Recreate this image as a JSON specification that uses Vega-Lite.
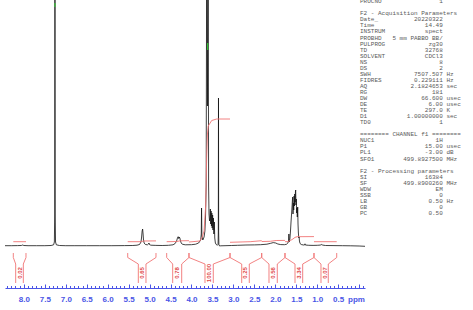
{
  "$schema": "https://vega.github.io/schema/vega-lite/v6.json",
  "width": 360,
  "height": 288,
  "autosize": {"type": "none"},
  "padding": {"left": 5, "top": 0, "right": 108, "bottom": 22},
  "background": "white",
  "config": {
    "view": {"stroke": null},
    "axisX": {
      "grid": false,
      "domainColor": "#4a55e6",
      "domainWidth": 1,
      "tickColor": "#4a55e6",
      "tickWidth": 1,
      "labelColor": "#4a55e6",
      "labelFont": "Liberation Sans",
      "labelFontSize": 8,
      "labelFontWeight": "bold",
      "labelPadding": 11,
      "labelOverlap": false,
      "labelFlush": false,
      "labelBound": false,
      "titleColor": "#4a55e6",
      "titleFont": "Liberation Sans",
      "titleFontSize": 8,
      "titleFontWeight": "bold",
      "titleX": 351,
      "titleY": 11,
      "titleAlign": "center",
      "titleBaseline": "middle"
    }
  },
  "datasets": {
    "spectrum": [
      {"ppm":8.45,"v":0.3},{"ppm":8.3,"v":0.3},{"ppm":8.15,"v":0.4},{"ppm":8.06,"v":0.5},{"ppm":8.03,"v":1.0},{"ppm":8.0,"v":0.5},{"ppm":7.9,"v":0.3},{"ppm":7.7,"v":0.3},{"ppm":7.5,"v":0.3},{"ppm":7.35,"v":0.5},{"ppm":7.29,"v":1.2},{"ppm":7.272,"v":4},{"ppm":7.264,"v":30},{"ppm":7.258,"v":330},{"ppm":7.252,"v":30},{"ppm":7.244,"v":4},{"ppm":7.225,"v":1.2},{"ppm":7.15,"v":0.5},{"ppm":7.0,"v":0.3},{"ppm":6.8,"v":0.3},{"ppm":6.5,"v":0.3},{"ppm":6.2,"v":0.3},{"ppm":5.9,"v":0.3},{"ppm":5.6,"v":0.4},{"ppm":5.4,"v":0.5},{"ppm":5.3,"v":0.8},{"ppm":5.24,"v":1.5},{"ppm":5.205,"v":4},{"ppm":5.19,"v":9},{"ppm":5.178,"v":15},{"ppm":5.166,"v":17},{"ppm":5.155,"v":12},{"ppm":5.145,"v":6},{"ppm":5.13,"v":3},{"ppm":5.10,"v":1.5},{"ppm":5.05,"v":1.2},{"ppm":5.025,"v":2},{"ppm":5.015,"v":3},{"ppm":5.005,"v":1.5},{"ppm":4.97,"v":0.8},{"ppm":4.85,"v":0.6},{"ppm":4.7,"v":0.5},{"ppm":4.55,"v":0.7},{"ppm":4.44,"v":1.2},{"ppm":4.39,"v":2.5},{"ppm":4.355,"v":5},{"ppm":4.335,"v":8},{"ppm":4.318,"v":9.3},{"ppm":4.305,"v":7.5},{"ppm":4.292,"v":9},{"ppm":4.278,"v":8},{"ppm":4.262,"v":5},{"ppm":4.245,"v":3},{"ppm":4.22,"v":1.8},{"ppm":4.15,"v":1.2},{"ppm":4.0,"v":1.3},{"ppm":3.9,"v":1.8},{"ppm":3.83,"v":3},{"ppm":3.78,"v":6},{"ppm":3.767,"v":12},{"ppm":3.760,"v":38},{"ppm":3.752,"v":10},{"ppm":3.73,"v":6},{"ppm":3.70,"v":9},{"ppm":3.68,"v":15},{"ppm":3.665,"v":30},{"ppm":3.65,"v":60},{"ppm":3.636,"v":330},{"ppm":3.620,"v":140},{"ppm":3.602,"v":330},{"ppm":3.592,"v":60},{"ppm":3.582,"v":32},{"ppm":3.570,"v":25},{"ppm":3.560,"v":28},{"ppm":3.550,"v":37},{"ppm":3.542,"v":22},{"ppm":3.533,"v":35},{"ppm":3.524,"v":20},{"ppm":3.515,"v":33},{"ppm":3.506,"v":18},{"ppm":3.496,"v":31},{"ppm":3.487,"v":16},{"ppm":3.477,"v":28},{"ppm":3.466,"v":12},{"ppm":3.455,"v":24},{"ppm":3.445,"v":8},{"ppm":3.43,"v":3},{"ppm":3.41,"v":1.5},{"ppm":3.38,"v":0.8},{"ppm":3.366,"v":1.5},{"ppm":3.36,"v":14},{"ppm":3.356,"v":148},{"ppm":3.352,"v":14},{"ppm":3.346,"v":1.5},{"ppm":3.33,"v":0.0},{"ppm":3.3,"v":0.2},{"ppm":3.2,"v":0.3},{"ppm":3.05,"v":0.5},{"ppm":2.9,"v":0.7},{"ppm":2.7,"v":1.0},{"ppm":2.5,"v":1.1},{"ppm":2.35,"v":1.3},{"ppm":2.2,"v":1.8},{"ppm":2.12,"v":2.6},{"ppm":2.05,"v":3.4},{"ppm":1.99,"v":3},{"ppm":1.94,"v":2},{"ppm":1.87,"v":1.4},{"ppm":1.78,"v":1.3},{"ppm":1.73,"v":1.8},{"ppm":1.70,"v":3},{"ppm":1.684,"v":5},{"ppm":1.676,"v":12},{"ppm":1.668,"v":4},{"ppm":1.652,"v":7},{"ppm":1.638,"v":15},{"ppm":1.625,"v":24},{"ppm":1.612,"v":32},{"ppm":1.600,"v":40},{"ppm":1.592,"v":46},{"ppm":1.585,"v":49},{"ppm":1.578,"v":32},{"ppm":1.570,"v":43},{"ppm":1.561,"v":36},{"ppm":1.552,"v":50},{"ppm":1.544,"v":40},{"ppm":1.536,"v":52},{"ppm":1.528,"v":44},{"ppm":1.520,"v":54},{"ppm":1.514,"v":56},{"ppm":1.507,"v":41},{"ppm":1.499,"v":47},{"ppm":1.491,"v":33},{"ppm":1.483,"v":38},{"ppm":1.475,"v":29},{"ppm":1.466,"v":39},{"ppm":1.458,"v":22},{"ppm":1.449,"v":13},{"ppm":1.440,"v":8},{"ppm":1.432,"v":9},{"ppm":1.424,"v":5},{"ppm":1.41,"v":2.5},{"ppm":1.38,"v":1.5},{"ppm":1.33,"v":1.0},{"ppm":1.30,"v":1.1},{"ppm":1.292,"v":2.2},{"ppm":1.284,"v":1.0},{"ppm":1.2,"v":0.7},{"ppm":1.1,"v":0.6},{"ppm":1.0,"v":0.7},{"ppm":0.93,"v":0.9},{"ppm":0.89,"v":1.5},{"ppm":0.87,"v":0.9},{"ppm":0.8,"v":0.5},{"ppm":0.6,"v":0.4},{"ppm":0.4,"v":0.3},{"ppm":0.2,"v":0.2},{"ppm":0.0,"v":0.0},{"ppm":-0.14,"v":-0.3}
    ],
    "integrals": [
      {"region":1,"ppm":8.252,"v":4.3},{"region":1,"ppm":7.949,"v":4.3},
      {"region":2,"ppm":5.522,"v":4.3},{"region":2,"ppm":5.20,"v":4.3},{"region":2,"ppm":5.15,"v":5.0},{"region":2,"ppm":4.847,"v":5.1},
      {"region":3,"ppm":4.592,"v":4.3},{"region":3,"ppm":4.35,"v":4.5},{"region":3,"ppm":4.27,"v":5.2},{"region":3,"ppm":4.060,"v":5.3},
      {"region":4,"ppm":4.060,"v":4},{"region":4,"ppm":3.80,"v":5},{"region":4,"ppm":3.742,"v":9},{"region":4,"ppm":3.70,"v":15},{"region":4,"ppm":3.662,"v":40},{"region":4,"ppm":3.638,"v":88},{"region":4,"ppm":3.619,"v":112},{"region":4,"ppm":3.600,"v":120},{"region":4,"ppm":3.518,"v":125.5},{"region":4,"ppm":3.40,"v":127},{"region":4,"ppm":3.081,"v":127},
      {"region":5,"ppm":3.081,"v":3.7},{"region":5,"ppm":2.60,"v":4.3},{"region":5,"ppm":2.325,"v":5.3},
      {"region":6,"ppm":2.325,"v":4.5},{"region":6,"ppm":2.12,"v":4.7},{"region":6,"ppm":1.98,"v":5.5},{"region":6,"ppm":1.769,"v":5.6},
      {"region":7,"ppm":1.769,"v":4.3},{"region":7,"ppm":1.70,"v":4.4},{"region":7,"ppm":1.64,"v":5.5},{"region":7,"ppm":1.58,"v":7},{"region":7,"ppm":1.53,"v":8.6},{"region":7,"ppm":1.48,"v":9.3},{"region":7,"ppm":1.077,"v":9.4},
      {"region":8,"ppm":1.077,"v":4.3},{"region":8,"ppm":0.535,"v":4.3}
    ],
    "regions": [
      {"label":"0.02","lo":8.252,"hi":7.949,"ilo":8.195,"ihi":8.013,"mid":8.104},
      {"label":"0.65","lo":5.522,"hi":4.847,"ilo":5.269,"ihi":5.086,"mid":5.178},
      {"label":"0.78","lo":4.592,"hi":4.060,"ilo":4.449,"ihi":4.234,"mid":4.342},
      {"label":"100.00","lo":4.060,"hi":3.081,"ilo":3.678,"ihi":3.480,"mid":3.579},
      {"label":"0.25","lo":3.081,"hi":2.325,"ilo":2.802,"ihi":2.621,"mid":2.712},
      {"label":"0.56","lo":2.325,"hi":1.769,"ilo":2.151,"ihi":1.953,"mid":2.052},
      {"label":"3.34","lo":1.769,"hi":1.077,"ilo":1.530,"ihi":1.347,"mid":1.439},
      {"label":"0.07","lo":1.077,"hi":0.535,"ilo":0.910,"ihi":0.736,"mid":0.823}
    ],
    "markers": [
      {"ppm":7.257,"v1":239,"v2":243},
      {"ppm":3.613,"v1":196,"v2":203}
    ],
    "params": [
      {"line":0,"name":"PROCNO","value":"1","unit":""},
      {"line":2,"name":"F2 - Acquisition Parameters","value":"","unit":""},
      {"line":3,"name":"Date_","value":"20220322","unit":""},
      {"line":4,"name":"Time","value":"14.49","unit":""},
      {"line":5,"name":"INSTRUM","value":"spect","unit":""},
      {"line":6,"name":"PROBHD","value":"5 mm PABBO BB/","unit":""},
      {"line":7,"name":"PULPROG","value":"zg30","unit":""},
      {"line":8,"name":"TD","value":"32768","unit":""},
      {"line":9,"name":"SOLVENT","value":"CDCl3","unit":""},
      {"line":10,"name":"NS","value":"8","unit":""},
      {"line":11,"name":"DS","value":"2","unit":""},
      {"line":12,"name":"SWH","value":"7507.507","unit":"Hz"},
      {"line":13,"name":"FIDRES","value":"0.229111","unit":"Hz"},
      {"line":14,"name":"AQ","value":"2.1824653","unit":"sec"},
      {"line":15,"name":"RG","value":"181","unit":""},
      {"line":16,"name":"DW","value":"66.600","unit":"usec"},
      {"line":17,"name":"DE","value":"6.00","unit":"usec"},
      {"line":18,"name":"TE","value":"297.0","unit":"K"},
      {"line":19,"name":"D1","value":"1.00000000","unit":"sec"},
      {"line":20,"name":"TD0","value":"1","unit":""},
      {"line":22,"name":"======== CHANNEL f1 ========","value":"","unit":""},
      {"line":23,"name":"NUC1","value":"1H","unit":""},
      {"line":24,"name":"P1","value":"15.00","unit":"usec"},
      {"line":25,"name":"PL1","value":"-3.00","unit":"dB"},
      {"line":26,"name":"SFO1","value":"499.8927500","unit":"MHz"},
      {"line":28,"name":"F2 - Processing parameters","value":"","unit":""},
      {"line":29,"name":"SI","value":"16384","unit":""},
      {"line":30,"name":"SF","value":"499.8900260","unit":"MHz"},
      {"line":31,"name":"WDW","value":"EM","unit":""},
      {"line":32,"name":"SSB","value":"0","unit":""},
      {"line":33,"name":"LB","value":"0.50","unit":"Hz"},
      {"line":34,"name":"GB","value":"0","unit":""},
      {"line":35,"name":"PC","value":"0.50","unit":""}
    ]
  },
  "layer": [
    {
      "layer": [
        {
          "data": {"name": "spectrum"},
          "mark": {"type": "line", "color": "#111111", "strokeWidth": 0.8, "clip": true},
          "encoding": {
            "x": {
              "field": "ppm", "type": "quantitative",
              "scale": {"domain": [-0.14, 8.45], "reverse": true, "nice": false, "zero": false},
              "axis": {
                "title": "ppm",
                "tickCount": 500,
                "values": [8.4,8.3,8.2,8.1,8.0,7.9,7.8,7.7,7.6,7.5,7.4,7.3,7.2,7.1,7.0,6.9,6.8,6.7,6.6,6.5,6.4,6.3,6.2,6.1,6.0,5.9,5.8,5.7,5.6,5.5,5.4,5.3,5.2,5.1,5.0,4.9,4.8,4.7,4.6,4.5,4.4,4.3,4.2,4.1,4.0,3.9,3.8,3.7,3.6,3.5,3.4,3.3,3.2,3.1,3.0,2.9,2.8,2.7,2.6,2.5,2.4,2.3,2.2,2.1,2.0,1.9,1.8,1.7,1.6,1.5,1.4,1.3,1.2,1.1,1.0,0.9,0.8,0.7,0.6,0.5,0.4,0.3,0.2,0.1,0.0,-0.1],
                "labelExpr": "abs(datum.value*2 - round(datum.value*2)) < 0.001 && datum.value > 0.2 ? format(datum.value, '.1f') : ''",
                "tickSize": {"condition": {"test": "abs(datum.value*2 - round(datum.value*2)) < 0.001", "value": -4}, "value": -2.5},
                "labelOverlap": false
              }
            },
            "y": {"field": "v", "type": "quantitative", "scale": {"domain": [-42, 246], "nice": false, "zero": false}, "axis": null}
          }
        },
        {
          "data": {"name": "markers"},
          "mark": {"type": "rule", "color": "#33dd33", "strokeWidth": 1},
          "encoding": {
            "x": {"field": "ppm", "type": "quantitative"},
            "y": {"field": "v1", "type": "quantitative", "axis": null},
            "y2": {"field": "v2"}
          }
        },
        {
          "data": {"name": "integrals"},
          "mark": {"type": "line", "color": "#f07474", "strokeWidth": 0.9},
          "encoding": {
            "x": {"field": "ppm", "type": "quantitative"},
            "y": {"field": "v", "type": "quantitative", "axis": null},
            "detail": {"field": "region", "type": "nominal"}
          }
        },
        {
          "data": {"name": "regions"},
          "layer": [
            {"mark": {"type": "rule", "color": "#f07474", "strokeWidth": 0.9},
             "encoding": {"x": {"field": "lo", "type": "quantitative"}, "y": {"datum": -7, "axis": null}, "y2": {"datum": -11.5}}},
            {"mark": {"type": "rule", "color": "#f07474", "strokeWidth": 0.9},
             "encoding": {"x": {"field": "hi", "type": "quantitative"}, "y": {"datum": -7, "axis": null}, "y2": {"datum": -11.5}}},
            {"mark": {"type": "rule", "color": "#f07474", "strokeWidth": 0.9},
             "encoding": {"x": {"field": "lo", "type": "quantitative"}, "x2": {"field": "ilo"}, "y": {"datum": -11.5, "axis": null}, "y2": {"datum": -18}}},
            {"mark": {"type": "rule", "color": "#f07474", "strokeWidth": 0.9},
             "encoding": {"x": {"field": "hi", "type": "quantitative"}, "x2": {"field": "ihi"}, "y": {"datum": -11.5, "axis": null}, "y2": {"datum": -18}}},
            {"mark": {"type": "rule", "color": "#f07474", "strokeWidth": 0.9},
             "encoding": {"x": {"field": "ilo", "type": "quantitative"}, "y": {"datum": -18, "axis": null}, "y2": {"datum": -37}}},
            {"mark": {"type": "rule", "color": "#f07474", "strokeWidth": 0.9},
             "encoding": {"x": {"field": "ihi", "type": "quantitative"}, "y": {"datum": -18, "axis": null}, "y2": {"datum": -37}}},
            {"mark": {"type": "text", "color": "#e04848", "angle": 270, "align": "center", "baseline": "middle", "font": "Liberation Sans", "fontSize": 6, "fontWeight": "bold"},
             "encoding": {"x": {"field": "mid", "type": "quantitative"}, "y": {"datum": -27, "axis": null}, "text": {"field": "label", "type": "nominal"}}}
          ]
        }
      ]
    },
    {
      "data": {"name": "params"},
      "layer": [
        {"mark": {"type": "text", "align": "left", "baseline": "middle", "font": "Liberation Mono", "fontSize": 6, "color": "#5a5a5a"},
         "encoding": {
           "x": {"datum": 0, "type": "quantitative", "scale": {"domain": [0, 29], "range": [355, 459.4], "nice": false, "zero": false}, "axis": null},
           "y": {"field": "line", "type": "quantitative", "scale": {"domain": [0, 35], "range": [1.2, 212.95], "nice": false, "zero": false}, "axis": null},
           "text": {"field": "name", "type": "nominal"}}},
        {"mark": {"type": "text", "align": "right", "baseline": "middle", "font": "Liberation Mono", "fontSize": 6, "color": "#5a5a5a"},
         "encoding": {
           "x": {"datum": 23, "type": "quantitative", "axis": null},
           "y": {"field": "line", "type": "quantitative", "axis": null},
           "text": {"field": "value", "type": "nominal"}}},
        {"mark": {"type": "text", "align": "left", "baseline": "middle", "font": "Liberation Mono", "fontSize": 6, "color": "#5a5a5a"},
         "encoding": {
           "x": {"datum": 24, "type": "quantitative", "axis": null},
           "y": {"field": "line", "type": "quantitative", "axis": null},
           "text": {"field": "unit", "type": "nominal"}}}
      ]
    }
  ],
  "resolve": {"scale": {"x": "independent", "y": "independent"}}
}
